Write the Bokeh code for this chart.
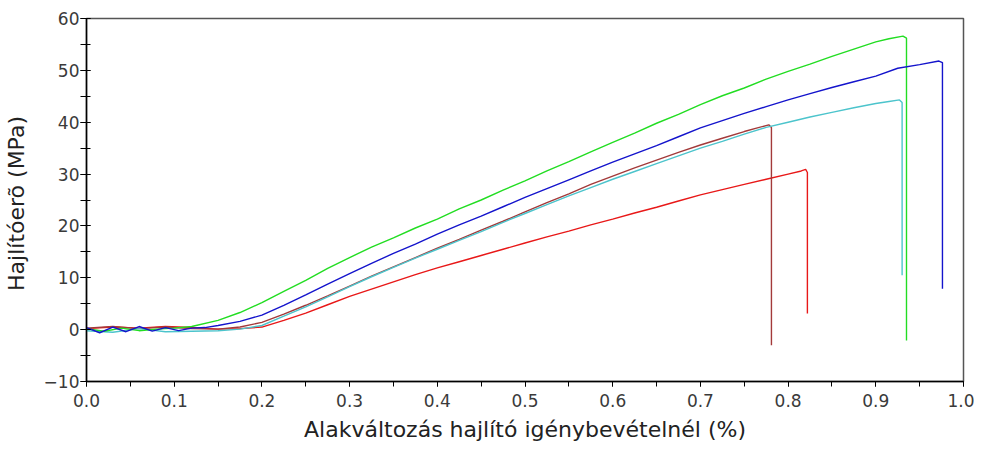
from bokeh.plotting import figure
from bokeh.models import Range1d, SingleIntervalTicker, PrintfTickFormatter
from bokeh.embed import file_html
from bokeh.resources import INLINE

# --- data (strain %, stress MPa) ---
red_x = [0.0, 0.03, 0.06, 0.09, 0.12, 0.15, 0.175, 0.2, 0.225, 0.25, 0.275, 0.3, 0.325, 0.35, 0.375,
         0.4, 0.425, 0.45, 0.475, 0.5, 0.525, 0.55, 0.575, 0.6, 0.625, 0.65, 0.675, 0.7, 0.725, 0.75,
         0.775, 0.8, 0.815, 0.82, 0.822, 0.822]
red_y = [0.2, 0.5, 0.3, 0.6, 0.4, 0.1, 0.2, 0.5, 1.8, 3.2, 4.8, 6.4, 7.8, 9.2, 10.6,
         11.9, 13.1, 14.3, 15.5, 16.7, 17.9, 19.0, 20.2, 21.3, 22.5, 23.6, 24.8, 26.0, 27.0, 28.0,
         29.0, 30.0, 30.6, 30.9, 30.3, 3.1]

brown_x = [0.0, 0.03, 0.06, 0.09, 0.12, 0.15, 0.175, 0.2, 0.225, 0.25, 0.275, 0.3, 0.325, 0.35, 0.375,
           0.4, 0.425, 0.45, 0.475, 0.5, 0.525, 0.55, 0.575, 0.6, 0.625, 0.65, 0.675, 0.7, 0.725, 0.75,
           0.765, 0.778, 0.781, 0.781]
brown_y = [0.3, 0.6, 0.2, 0.5, 0.2, 0.1, 0.5, 1.4, 3.0, 4.7, 6.5, 8.4, 10.3, 12.1, 13.9,
           15.7, 17.4, 19.2, 20.9, 22.7, 24.5, 26.2, 28.0, 29.6, 31.2, 32.7, 34.2, 35.6, 36.9, 38.2,
           38.9, 39.5, 39.0, -3.0]

cyan_x = [0.0, 0.03, 0.06, 0.09, 0.12, 0.15, 0.175, 0.2, 0.225, 0.25, 0.275, 0.3, 0.325, 0.35, 0.375,
          0.4, 0.425, 0.45, 0.475, 0.5, 0.525, 0.55, 0.575, 0.6, 0.625, 0.65, 0.675, 0.7, 0.725, 0.75,
          0.775, 0.8, 0.825, 0.85, 0.875, 0.9, 0.915, 0.927, 0.930, 0.930]
cyan_y = [-0.2, -0.5, 0.2, -0.4, -0.3, -0.2, 0.1, 0.8, 2.6, 4.4, 6.3, 8.3, 10.2, 12.0, 13.8,
          15.5, 17.2, 18.9, 20.7, 22.4, 24.1, 25.8, 27.4, 29.0, 30.5, 32.0, 33.5, 35.0, 36.3, 37.7,
          39.0, 40.0, 41.0, 41.9, 42.8, 43.6, 44.0, 44.3, 43.8, 10.5]

green_x = [0.0, 0.02, 0.04, 0.06, 0.08, 0.10, 0.12, 0.15, 0.175, 0.2, 0.225, 0.25, 0.275, 0.3, 0.325,
           0.35, 0.375, 0.4, 0.425, 0.45, 0.475, 0.5, 0.525, 0.55, 0.575, 0.6, 0.625, 0.65, 0.675, 0.7,
           0.725, 0.75, 0.775, 0.8, 0.825, 0.85, 0.875, 0.9, 0.915, 0.931, 0.935, 0.935]
green_y = [0.2, -0.3, 0.3, -0.2, 0.1, 0.3, 0.6, 1.8, 3.3, 5.2, 7.4, 9.5, 11.8, 13.9, 15.9,
           17.7, 19.6, 21.3, 23.3, 25.0, 26.9, 28.7, 30.6, 32.4, 34.3, 36.1, 37.9, 39.8, 41.5, 43.4,
           45.1, 46.6, 48.3, 49.8, 51.2, 52.7, 54.1, 55.5, 56.1, 56.6, 56.2, -2.1]

blue_x = [0.0, 0.015, 0.03, 0.045, 0.06, 0.075, 0.09, 0.105, 0.12, 0.135, 0.15, 0.175, 0.2, 0.225,
          0.25, 0.275, 0.3, 0.325, 0.35, 0.375, 0.4, 0.425, 0.45, 0.475, 0.5, 0.525, 0.55, 0.575,
          0.6, 0.625, 0.65, 0.675, 0.7, 0.725, 0.75, 0.775, 0.8, 0.825, 0.85, 0.875, 0.9, 0.925,
          0.95, 0.972, 0.976, 0.976]
blue_y = [0.4, -0.6, 0.5, -0.4, 0.6, -0.3, 0.4, -0.2, 0.3, 0.4, 0.8, 1.6, 2.8, 4.7,
          6.7, 8.8, 10.8, 12.8, 14.7, 16.5, 18.4, 20.2, 21.9, 23.7, 25.5, 27.2, 28.9, 30.6,
          32.3, 33.9, 35.5, 37.2, 38.9, 40.3, 41.7, 43.0, 44.3, 45.5, 46.7, 47.8, 48.9, 50.4,
          51.1, 51.8, 51.5, 7.9]

x_label = "Alakváltozás hajlító igénybevételnél (%)"
y_label = "Hajlítóerõ  (MPa)"

FONT = "DejaVu Sans"

p = figure(width=974, height=449, output_backend="svg", toolbar_location=None,
           x_range=Range1d(0, 1.0), y_range=Range1d(-10, 60),
           min_border_left=85, min_border_right=11, min_border_top=18, min_border_bottom=68)
p.xgrid.visible = False
p.ygrid.visible = False
p.outline_line_color = "#555555"
p.outline_line_width = 1.5
p.background_fill_color = "white"
p.border_fill_color = "white"

series = [
    (red_x, red_y, "#e81818"),
    (brown_x, brown_y, "#a33a3a"),
    (cyan_x, cyan_y, "#4cc4cc"),
    (green_x, green_y, "#22dd22"),
    (blue_x, blue_y, "#1414cc"),
]
for xs, ys, c in series:
    p.line(xs, ys, line_color=c, line_width=1.4)

p.xaxis.ticker = SingleIntervalTicker(interval=0.1, num_minor_ticks=2)
p.xaxis.formatter = PrintfTickFormatter(format="%.1f")
p.yaxis.ticker = SingleIntervalTicker(interval=10, num_minor_ticks=2)

for ax in (p.xaxis[0], p.yaxis[0]):
    ax.axis_line_color = "black"
    ax.axis_line_width = 1.5
    ax.major_tick_line_color = "black"
    ax.minor_tick_line_color = "black"
    ax.major_label_text_font = FONT
    ax.major_label_text_font_size = "17px"
    ax.major_label_text_color = "#3a3a3a"
    ax.axis_label_text_font = FONT
    ax.axis_label_text_font_size = "22px"
    ax.axis_label_text_font_style = "normal"
    ax.axis_label_text_color = "#222222"

p.xaxis.major_tick_out = 5
p.xaxis.major_tick_in = 0
p.xaxis.minor_tick_out = 5
p.xaxis.minor_tick_in = 0
p.xaxis.major_label_standoff = 7
p.xaxis.axis_label = x_label
p.xaxis.axis_label_standoff = 7

p.yaxis.major_tick_out = 6
p.yaxis.major_tick_in = 4
p.yaxis.minor_tick_out = 6
p.yaxis.minor_tick_in = 4
p.yaxis.major_label_standoff = 1
p.yaxis.axis_label = y_label
p.yaxis.axis_label_standoff = 12

open("out.html", "w").write(file_html(p, INLINE))
